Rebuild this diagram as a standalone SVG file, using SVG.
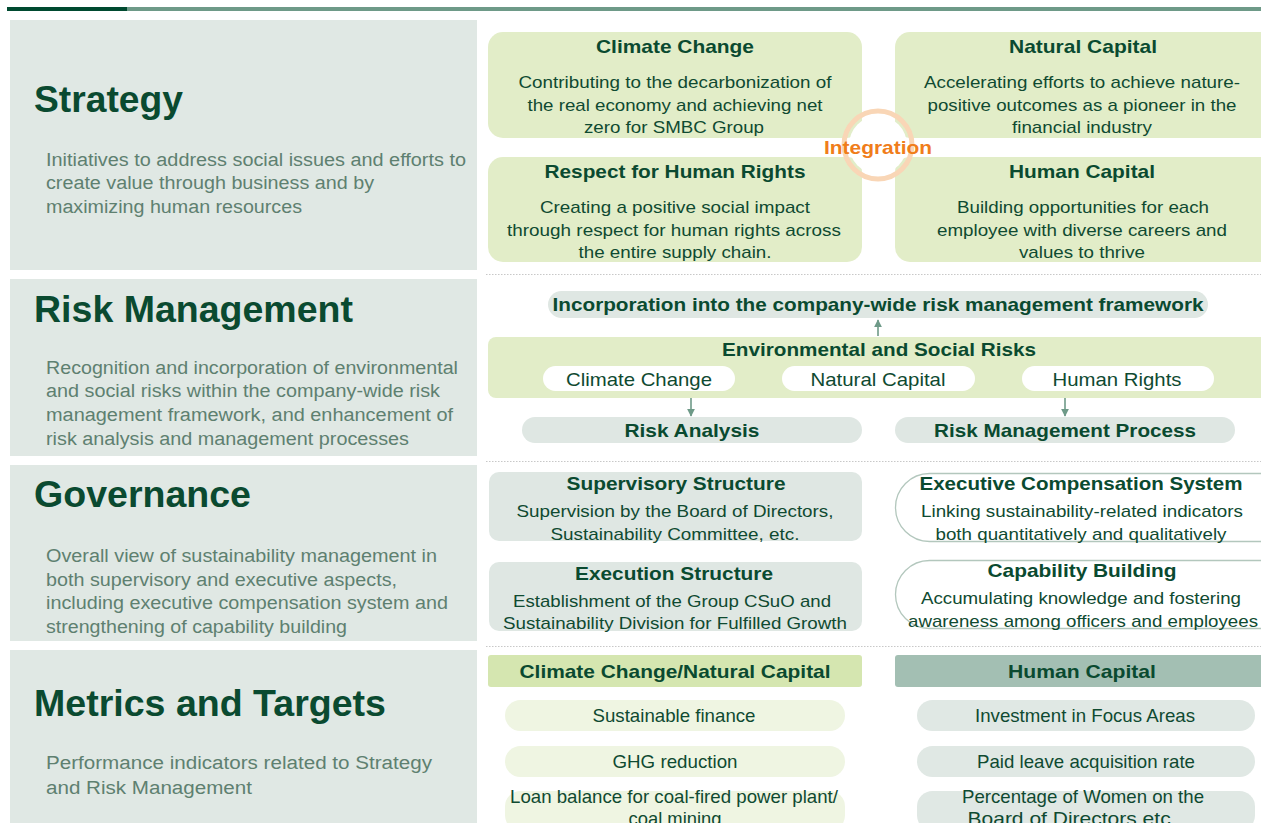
<svg xmlns="http://www.w3.org/2000/svg" width="1261" height="823" viewBox="0 0 1261 823">
<style>
text{font-family:"Liberation Sans",Arial,sans-serif;}
.ttl{font-size:37px;font-weight:bold;fill:#0a4a30;}
.desc{font-size:18px;fill:#5e8070;}
.bt{font-size:19px;font-weight:bold;fill:#0a4a30;text-anchor:middle;}
.bd{font-size:17px;fill:#0f4a31;text-anchor:middle;}
.nr{font-size:19px;fill:#0f4a31;text-anchor:middle;}
.panel{fill:#e0e8e4;}
.lg{fill:#e2edc8;}
.gy{fill:#dfe7e3;}
.sep{stroke:#c8c8c8;stroke-width:1.2;stroke-dasharray:1.5 1.5;fill:none;}
.arr{stroke:#6e9a88;stroke-width:1.6;fill:none;marker-end:url(#ah);}
</style>
<defs>
<marker id="ah" viewBox="0 0 10 10" refX="9" refY="5" markerWidth="5" markerHeight="5" orient="auto">
<path d="M0,0 L10,5 L0,10 z" fill="#6e9a88"/>
</marker>
</defs>
<rect width="1261" height="823" fill="#ffffff"/>
<rect x="7" y="7" width="120" height="4" fill="#004a30"/>
<rect x="127" y="7" width="1134" height="4" fill="#6e9a88"/>

<g id="left-strategy">
<rect class="panel" x="10" y="20" width="467" height="250"/>
<text class="ttl" x="34" y="112" textLength="149" lengthAdjust="spacingAndGlyphs">Strategy</text>
<text class="desc" x="46" y="166" textLength="420" lengthAdjust="spacingAndGlyphs">Initiatives to address social issues and efforts to</text>
<text class="desc" x="46" y="189" textLength="328" lengthAdjust="spacingAndGlyphs">create value through business and by</text>
<text class="desc" x="46" y="213" textLength="256" lengthAdjust="spacingAndGlyphs">maximizing human resources</text>
</g>
<g id="left-risk">
<rect class="panel" x="10" y="279" width="467" height="177"/>
<text class="ttl" x="34" y="322" textLength="319" lengthAdjust="spacingAndGlyphs">Risk Management</text>
<text class="desc" x="46" y="374" textLength="412" lengthAdjust="spacingAndGlyphs">Recognition and incorporation of environmental</text>
<text class="desc" x="46" y="397" textLength="394" lengthAdjust="spacingAndGlyphs">and social risks within the company-wide risk</text>
<text class="desc" x="46" y="421" textLength="407" lengthAdjust="spacingAndGlyphs">management framework, and enhancement of</text>
<text class="desc" x="46" y="445" textLength="363" lengthAdjust="spacingAndGlyphs">risk analysis and management processes</text>
</g>
<g id="left-governance">
<rect class="panel" x="10" y="465" width="467" height="176"/>
<text class="ttl" x="34" y="507" textLength="217" lengthAdjust="spacingAndGlyphs">Governance</text>
<text class="desc" x="46" y="562" textLength="391" lengthAdjust="spacingAndGlyphs">Overall view of sustainability management in</text>
<text class="desc" x="46" y="586" textLength="351" lengthAdjust="spacingAndGlyphs">both supervisory and executive aspects,</text>
<text class="desc" x="46" y="609" textLength="402" lengthAdjust="spacingAndGlyphs">including executive compensation system and</text>
<text class="desc" x="46" y="633" textLength="301" lengthAdjust="spacingAndGlyphs">strengthening of capability building</text>
</g>
<g id="left-metrics">
<rect class="panel" x="10" y="650" width="467" height="173"/>
<text class="ttl" x="34" y="716" textLength="352" lengthAdjust="spacingAndGlyphs">Metrics and Targets</text>
<text class="desc" x="46" y="769" textLength="386" lengthAdjust="spacingAndGlyphs">Performance indicators related to Strategy</text>
<text class="desc" x="46" y="794" textLength="206" lengthAdjust="spacingAndGlyphs">and Risk Management</text>
</g>

<g id="separators">
<line class="sep" x1="486" y1="274.5" x2="1261" y2="274.5"/>
<line class="sep" x1="486" y1="461.5" x2="1261" y2="461.5"/>
<line class="sep" x1="486" y1="646.5" x2="1261" y2="646.5"/>
</g>

<g id="s-climate">
<rect class="lg" x="488" y="32" width="374" height="106" rx="15"/>
<text class="bt" x="675" y="53" textLength="158" lengthAdjust="spacingAndGlyphs">Climate Change</text>
<text class="bd" x="675" y="88" textLength="313" lengthAdjust="spacingAndGlyphs">Contributing to the decarbonization of</text>
<text class="bd" x="675" y="111" textLength="295" lengthAdjust="spacingAndGlyphs">the real economy and achieving net</text>
<text class="bd" x="674" y="133" textLength="180" lengthAdjust="spacingAndGlyphs">zero for SMBC Group</text>
</g>
<g id="s-natural">
<rect class="lg" x="895" y="32" width="380" height="106" rx="15"/>
<text class="bt" x="1083" y="53" textLength="148" lengthAdjust="spacingAndGlyphs">Natural Capital</text>
<text class="bd" x="1082" y="88" textLength="316" lengthAdjust="spacingAndGlyphs">Accelerating efforts to achieve nature-</text>
<text class="bd" x="1082" y="111" textLength="309" lengthAdjust="spacingAndGlyphs">positive outcomes as a pioneer in the</text>
<text class="bd" x="1082" y="133" textLength="140" lengthAdjust="spacingAndGlyphs">financial industry</text>
</g>
<g id="s-rights">
<rect class="lg" x="488" y="157" width="374" height="105" rx="15"/>
<text class="bt" x="675" y="178" textLength="261" lengthAdjust="spacingAndGlyphs">Respect for Human Rights</text>
<text class="bd" x="675" y="213" textLength="270" lengthAdjust="spacingAndGlyphs">Creating a positive social impact</text>
<text class="bd" x="674" y="236" textLength="334" lengthAdjust="spacingAndGlyphs">through respect for human rights across</text>
<text class="bd" x="675" y="258" textLength="193" lengthAdjust="spacingAndGlyphs">the entire supply chain.</text>
</g>
<g id="s-human">
<rect class="lg" x="895" y="157" width="380" height="105" rx="15"/>
<text class="bt" x="1082" y="178" textLength="146" lengthAdjust="spacingAndGlyphs">Human Capital</text>
<text class="bd" x="1083" y="213" textLength="252" lengthAdjust="spacingAndGlyphs">Building opportunities for each</text>
<text class="bd" x="1082" y="236" textLength="290" lengthAdjust="spacingAndGlyphs">employee with diverse careers and</text>
<text class="bd" x="1082" y="258" textLength="126" lengthAdjust="spacingAndGlyphs">values to thrive</text>
</g>
<g id="integration">
<circle cx="878" cy="145" r="29" fill="#ffffff"/>
<circle cx="878" cy="145" r="34" fill="none" stroke="#f9d6b6" stroke-width="5"/>
<text x="878" y="154" text-anchor="middle" font-size="19" font-weight="bold" fill="#f07d1a" textLength="108" lengthAdjust="spacingAndGlyphs">Integration</text>
</g>

<g id="r-incorp">
<rect class="gy" x="548" y="291" width="660" height="27" rx="13.5"/>
<text class="bt" x="878" y="311" textLength="651" lengthAdjust="spacingAndGlyphs">Incorporation into the company-wide risk management framework</text>
</g>
<g id="r-env">
<rect class="lg" x="488" y="337" width="785" height="61" rx="8"/>
<text class="bt" x="879" y="356" textLength="314" lengthAdjust="spacingAndGlyphs">Environmental and Social Risks</text>
<rect x="543" y="366" width="192" height="25" rx="12.5" fill="#ffffff"/>
<text class="nr" x="639" y="386" textLength="146" lengthAdjust="spacingAndGlyphs">Climate Change</text>
<rect x="782" y="366" width="193" height="25" rx="12.5" fill="#ffffff"/>
<text class="nr" x="878" y="386" textLength="135" lengthAdjust="spacingAndGlyphs">Natural Capital</text>
<rect x="1022" y="366" width="192" height="25" rx="12.5" fill="#ffffff"/>
<text class="nr" x="1117" y="386" textLength="129" lengthAdjust="spacingAndGlyphs">Human Rights</text>
</g>
<g id="r-analysis">
<rect class="gy" x="522" y="417" width="340" height="26" rx="13"/>
<text class="bt" x="692" y="437" textLength="135" lengthAdjust="spacingAndGlyphs">Risk Analysis</text>
</g>
<g id="r-process">
<rect class="gy" x="895" y="417" width="340" height="26" rx="13"/>
<text class="bt" x="1065" y="437" textLength="262" lengthAdjust="spacingAndGlyphs">Risk Management Process</text>
</g>

<g id="g-super">
<rect class="gy" x="489" y="472" width="373" height="69" rx="10"/>
<text class="bt" x="676" y="490" textLength="219" lengthAdjust="spacingAndGlyphs">Supervisory Structure</text>
<text class="bd" x="675" y="517" textLength="317" lengthAdjust="spacingAndGlyphs">Supervision by the Board of Directors,</text>
<text class="bd" x="675" y="540" textLength="249" lengthAdjust="spacingAndGlyphs">Sustainability Committee, etc.</text>
</g>
<g id="g-exec">
<rect class="gy" x="489" y="562" width="373" height="69" rx="10"/>
<text class="bt" x="674" y="580" textLength="198" lengthAdjust="spacingAndGlyphs">Execution Structure</text>
<text class="bd" x="672" y="607" textLength="318" lengthAdjust="spacingAndGlyphs">Establishment of the Group CSuO and</text>
<text class="bd" x="675" y="629" textLength="344" lengthAdjust="spacingAndGlyphs">Sustainability Division for Fulfilled Growth</text>
</g>
<g id="g-comp">
<rect x="895.5" y="473.5" width="400" height="68" rx="34" fill="#ffffff" stroke="#b3c7bd" stroke-width="1.3"/>
<text class="bt" x="1081" y="490" textLength="323" lengthAdjust="spacingAndGlyphs">Executive Compensation System</text>
<text class="bd" x="1082" y="517" textLength="322" lengthAdjust="spacingAndGlyphs">Linking sustainability-related indicators</text>
<text class="bd" x="1081" y="540" textLength="291" lengthAdjust="spacingAndGlyphs">both quantitatively and qualitatively</text>
</g>
<g id="g-cap">
<rect x="895.5" y="560.5" width="400" height="68" rx="34" fill="#ffffff" stroke="#b3c7bd" stroke-width="1.3"/>
<text class="bt" x="1082" y="577" textLength="189" lengthAdjust="spacingAndGlyphs">Capability Building</text>
<text class="bd" x="1081" y="604" textLength="320" lengthAdjust="spacingAndGlyphs">Accumulating knowledge and fostering</text>
<text class="bd" x="1083" y="627" textLength="350" lengthAdjust="spacingAndGlyphs">awareness among officers and employees</text>
</g>

<g id="m-cc-header">
<rect x="488" y="655" width="374" height="32" rx="3" fill="#d5e6b0"/>
<text class="bt" x="675" y="678" textLength="311" lengthAdjust="spacingAndGlyphs">Climate Change/Natural Capital</text>
</g>
<g id="m-hc-header">
<rect x="895" y="655" width="380" height="32" rx="3" fill="#a3bfb3"/>
<text class="bt" x="1082" y="678" textLength="148" lengthAdjust="spacingAndGlyphs">Human Capital</text>
</g>
<g id="m-finance">
<rect x="505" y="700" width="340" height="31" rx="15.5" fill="#eff5e2"/>
<text class="nr" x="674" y="722" font-size="18" textLength="163" lengthAdjust="spacingAndGlyphs">Sustainable finance</text>
</g>
<g id="m-ghg">
<rect x="505" y="746" width="340" height="31" rx="15.5" fill="#eff5e2"/>
<text class="nr" x="675" y="768" font-size="18" textLength="125" lengthAdjust="spacingAndGlyphs">GHG reduction</text>
</g>
<g id="m-loan">
<rect x="505" y="791" width="340" height="40" rx="15.5" fill="#eff5e2"/>
<text class="nr" x="674" y="803" font-size="18" textLength="328" lengthAdjust="spacingAndGlyphs">Loan balance for coal-fired power plant/</text>
<text class="nr" x="675" y="825" font-size="18" textLength="93" lengthAdjust="spacingAndGlyphs">coal mining</text>
</g>
<g id="m-invest">
<rect x="917" y="700" width="338" height="31" rx="15.5" fill="#e0e8e4"/>
<text class="nr" x="1085" y="722" font-size="18" textLength="220" lengthAdjust="spacingAndGlyphs">Investment in Focus Areas</text>
</g>
<g id="m-leave">
<rect x="917" y="746" width="338" height="31" rx="15.5" fill="#e0e8e4"/>
<text class="nr" x="1086" y="768" font-size="18" textLength="218" lengthAdjust="spacingAndGlyphs">Paid leave acquisition rate</text>
</g>
<g id="m-women">
<rect x="917" y="791" width="338" height="40" rx="15.5" fill="#e0e8e4"/>
<text class="nr" x="1083" y="803" font-size="18" textLength="242" lengthAdjust="spacingAndGlyphs">Percentage of Women on the</text>
<text class="nr" x="1072" y="825" font-size="18" textLength="209" lengthAdjust="spacingAndGlyphs">Board of Directors etc.</text>
</g>

<g id="connectors">
<line class="arr" x1="878" y1="336" x2="878" y2="320"/>
<line class="arr" x1="691" y1="398" x2="691" y2="416"/>
<line class="arr" x1="1065" y1="398" x2="1065" y2="416"/>
</g>
</svg>
